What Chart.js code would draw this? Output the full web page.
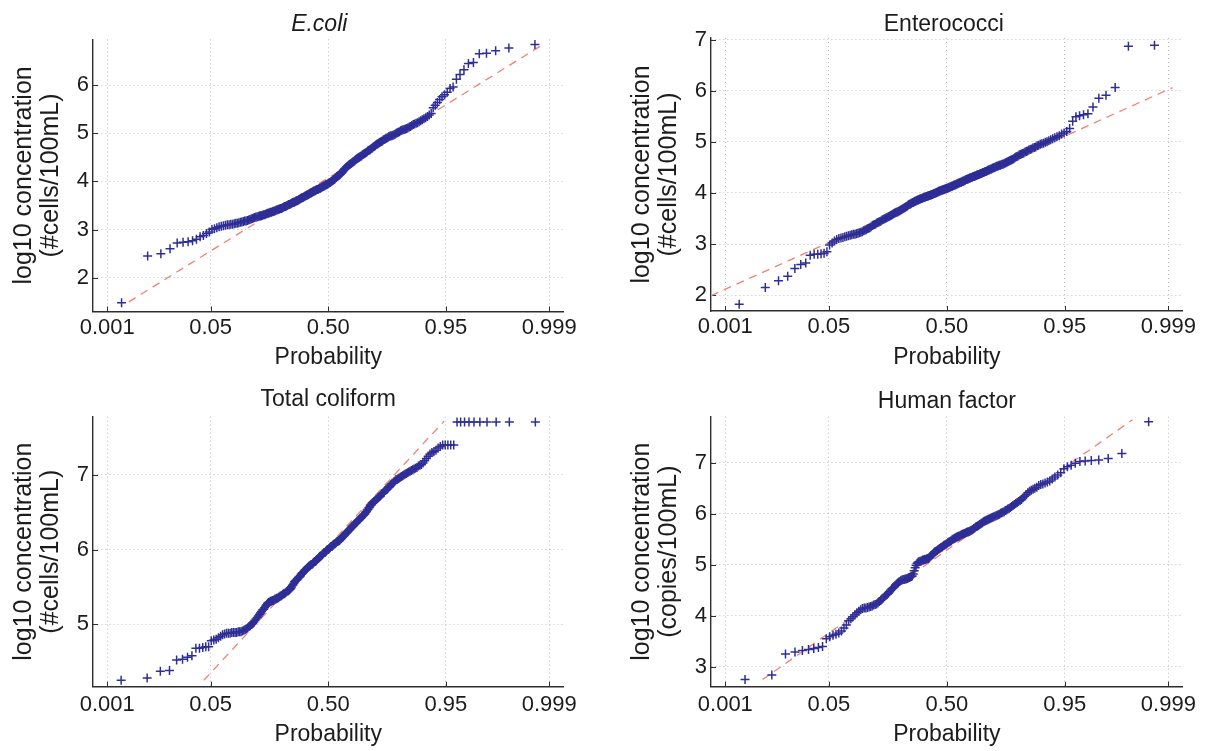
<!DOCTYPE html>
<html><head><meta charset="utf-8">
<script src="https://cdn.jsdelivr.net/npm/chart.js@4.4.1/dist/chart.umd.min.js"></script>
<style>
html,body{margin:0;padding:0;background:#fff;}
#wrap{position:relative;width:1206px;height:751px;overflow:hidden;background:#fff;}
canvas{position:absolute;}
</style></head><body><div id="wrap">
<canvas id="c0"></canvas><canvas id="c1"></canvas><canvas id="c2"></canvas><canvas id="c3"></canvas>
</div>
<script>
// ---------------- DATA ----------------
const probTickValues = [0.001, 0.05, 0.5, 0.95, 0.999];
const probTickLabels = ['0.001', '0.05', '0.50', '0.95', '0.999'];
const xAxisLabel = 'Probability';
const yLabelLine1 = 'log10 concentration';

const panelTitles = ['E.coli', 'Enterococci', 'Total coliform', 'Human factor'];
const panelUnits = ['(#cells/100mL)', '(#cells/100mL)', '(#cells/100mL)', '(copies/100mL)'];

// sorted sample values (log10 concentration)
const ecoliValues = [
1.48,2.45,2.50,2.60,2.72,2.74,2.75,2.77,2.80,2.85,
2.88,2.92,2.95,3.00,3.02,3.04,3.06,3.07,3.08,3.09,
3.10,3.10,3.11,3.11,3.12,3.13,3.13,3.14,3.15,3.16,
3.17,3.18,3.18,3.19,3.20,3.21,3.22,3.23,3.24,3.25,
3.26,3.26,3.27,3.28,3.29,3.29,3.30,3.31,3.31,3.32,
3.33,3.34,3.34,3.35,3.36,3.36,3.37,3.38,3.38,3.39,
3.40,3.41,3.41,3.42,3.43,3.44,3.44,3.45,3.46,3.47,
3.48,3.48,3.49,3.50,3.51,3.52,3.52,3.53,3.54,3.55,
3.56,3.57,3.57,3.58,3.59,3.60,3.60,3.61,3.62,3.63,
3.64,3.65,3.66,3.66,3.67,3.68,3.69,3.70,3.71,3.72,
3.72,3.73,3.74,3.75,3.76,3.76,3.77,3.78,3.79,3.80,
3.80,3.81,3.82,3.83,3.83,3.84,3.85,3.86,3.86,3.87,
3.88,3.89,3.90,3.90,3.91,3.92,3.93,3.93,3.94,3.95,
3.96,3.97,3.98,3.99,4.00,4.01,4.02,4.03,4.04,4.05,
4.07,4.08,4.10,4.11,4.12,4.13,4.14,4.15,4.17,4.18,
4.20,4.22,4.24,4.26,4.27,4.29,4.30,4.31,4.33,4.34,
4.35,4.36,4.37,4.38,4.40,4.41,4.42,4.43,4.45,4.46,
4.47,4.48,4.49,4.50,4.51,4.52,4.53,4.55,4.56,4.57,
4.58,4.59,4.60,4.61,4.63,4.64,4.65,4.66,4.68,4.69,
4.70,4.72,4.73,4.74,4.76,4.77,4.78,4.79,4.81,4.82,
4.83,4.84,4.86,4.87,4.88,4.89,4.90,4.91,4.93,4.94,
4.95,4.95,4.96,4.97,4.98,5.00,5.01,5.02,5.03,5.05,
5.06,5.07,5.08,5.09,5.10,5.11,5.13,5.14,5.16,5.18,
5.19,5.21,5.22,5.24,5.26,5.28,5.30,5.32,5.35,5.38,
5.41,5.53,5.58,5.64,5.70,5.76,5.80,5.85,5.93,5.96,
6.12,6.22,6.32,6.45,6.47,6.65,6.66,6.71,6.77,6.84
];
const enterococciValues = [
1.82,2.15,2.28,2.37,2.52,2.60,2.63,2.78,2.80,2.80,
2.81,2.82,2.85,2.98,3.02,3.06,3.09,3.11,3.12,3.13,
3.14,3.15,3.16,3.17,3.18,3.19,3.19,3.20,3.21,3.22,
3.23,3.24,3.26,3.27,3.28,3.30,3.31,3.32,3.34,3.36,
3.37,3.38,3.39,3.41,3.42,3.43,3.44,3.45,3.47,3.48,
3.49,3.50,3.51,3.52,3.53,3.54,3.55,3.56,3.57,3.58,
3.59,3.60,3.61,3.62,3.62,3.63,3.64,3.65,3.66,3.67,
3.68,3.69,3.70,3.71,3.72,3.73,3.74,3.75,3.77,3.78,
3.78,3.79,3.80,3.81,3.81,3.82,3.83,3.84,3.84,3.85,
3.86,3.86,3.87,3.88,3.88,3.89,3.89,3.90,3.91,3.91,
3.92,3.92,3.93,3.93,3.94,3.94,3.95,3.95,3.96,3.96,
3.97,3.97,3.98,3.99,3.99,4.00,4.00,4.01,4.02,4.02,
4.03,4.03,4.04,4.04,4.05,4.05,4.06,4.06,4.07,4.07,
4.08,4.08,4.09,4.09,4.10,4.10,4.11,4.12,4.12,4.13,
4.13,4.14,4.15,4.15,4.16,4.16,4.17,4.18,4.18,4.19,
4.20,4.20,4.21,4.21,4.22,4.23,4.23,4.24,4.24,4.25,
4.26,4.26,4.27,4.27,4.28,4.29,4.29,4.30,4.30,4.31,
4.32,4.32,4.33,4.33,4.34,4.35,4.35,4.36,4.36,4.37,
4.38,4.38,4.39,4.40,4.40,4.41,4.42,4.42,4.43,4.44,
4.45,4.45,4.46,4.47,4.47,4.48,4.49,4.49,4.50,4.51,
4.52,4.52,4.53,4.54,4.54,4.55,4.56,4.56,4.57,4.58,
4.59,4.60,4.61,4.62,4.63,4.64,4.65,4.66,4.67,4.69,
4.70,4.71,4.72,4.74,4.75,4.76,4.77,4.78,4.80,4.81,
4.82,4.84,4.85,4.86,4.88,4.89,4.90,4.92,4.93,4.95,
4.96,4.97,4.99,5.00,5.02,5.04,5.06,5.08,5.10,5.12,
5.15,5.17,5.20,5.26,5.40,5.49,5.51,5.53,5.55,5.68,
5.85,5.91,6.06,6.87,6.89
];
const totalColiformValues = [
4.25,4.28,4.37,4.38,4.52,4.53,4.56,4.58,4.68,4.68,
4.69,4.70,4.70,4.78,4.79,4.80,4.82,4.84,4.86,4.87,
4.88,4.88,4.88,4.89,4.89,4.89,4.89,4.90,4.90,4.90,
4.91,4.92,4.93,4.94,4.95,4.97,4.98,5.00,5.01,5.03,
5.05,5.07,5.09,5.11,5.13,5.15,5.17,5.19,5.20,5.22,
5.24,5.26,5.28,5.29,5.30,5.31,5.31,5.32,5.32,5.33,
5.34,5.34,5.35,5.35,5.36,5.37,5.38,5.38,5.39,5.40,
5.41,5.41,5.42,5.43,5.44,5.45,5.45,5.46,5.47,5.48,
5.50,5.52,5.53,5.55,5.57,5.58,5.59,5.60,5.61,5.62,
5.63,5.64,5.65,5.67,5.68,5.69,5.70,5.71,5.72,5.73,
5.74,5.75,5.76,5.77,5.78,5.78,5.79,5.80,5.80,5.81,
5.82,5.83,5.84,5.84,5.85,5.86,5.87,5.88,5.89,5.90,
5.91,5.91,5.92,5.93,5.94,5.95,5.96,5.96,5.97,5.98,
5.99,6.00,6.00,6.01,6.02,6.03,6.04,6.04,6.05,6.06,
6.07,6.08,6.08,6.09,6.10,6.11,6.11,6.12,6.12,6.13,
6.14,6.15,6.16,6.17,6.18,6.19,6.20,6.21,6.22,6.23,
6.24,6.25,6.26,6.27,6.28,6.29,6.30,6.31,6.32,6.33,
6.34,6.35,6.36,6.37,6.38,6.39,6.40,6.41,6.42,6.43,
6.44,6.45,6.46,6.47,6.48,6.50,6.51,6.53,6.54,6.56,
6.57,6.59,6.60,6.62,6.63,6.64,6.65,6.66,6.67,6.68,
6.69,6.70,6.71,6.72,6.74,6.75,6.76,6.77,6.79,6.80,
6.81,6.83,6.84,6.85,6.87,6.88,6.89,6.91,6.92,6.94,
6.94,6.95,6.96,6.97,6.98,6.99,7.00,7.01,7.02,7.03,
7.04,7.05,7.06,7.07,7.08,7.09,7.10,7.12,7.13,7.14,
7.16,7.19,7.22,7.25,7.28,7.30,7.31,7.33,7.36,7.38,
7.40,7.40,7.40,7.40,7.40,7.71,7.71,7.71,7.71,7.71,
7.71,7.71,7.71,7.71,7.71
];
const humanFactorValues = [
2.75,2.84,3.25,3.29,3.32,3.34,3.36,3.38,3.40,3.55,
3.59,3.62,3.64,3.66,3.70,3.76,3.82,3.90,3.94,3.98,
4.02,4.06,4.09,4.12,4.14,4.15,4.15,4.16,4.17,4.18,
4.19,4.21,4.22,4.23,4.25,4.28,4.30,4.33,4.35,4.38,
4.40,4.42,4.44,4.47,4.50,4.53,4.55,4.57,4.60,4.62,
4.64,4.66,4.67,4.69,4.70,4.71,4.71,4.72,4.72,4.73,
4.74,4.75,4.76,4.77,4.78,4.82,4.88,4.94,4.99,5.03,
5.05,5.06,5.07,5.07,5.08,5.09,5.09,5.10,5.10,5.11,
5.12,5.12,5.13,5.15,5.17,5.19,5.21,5.23,5.25,5.26,
5.27,5.28,5.30,5.31,5.32,5.33,5.34,5.35,5.37,5.38,
5.39,5.40,5.41,5.43,5.44,5.45,5.46,5.47,5.49,5.50,
5.51,5.52,5.53,5.54,5.55,5.56,5.56,5.57,5.58,5.59,
5.60,5.60,5.61,5.62,5.63,5.64,5.64,5.65,5.66,5.67,
5.68,5.69,5.71,5.72,5.74,5.75,5.76,5.77,5.79,5.80,
5.81,5.82,5.84,5.85,5.86,5.87,5.88,5.89,5.90,5.91,
5.92,5.93,5.94,5.95,5.96,5.97,5.98,5.99,6.01,6.02,
6.03,6.04,6.06,6.07,6.09,6.10,6.12,6.14,6.16,6.18,
6.20,6.22,6.24,6.26,6.28,6.31,6.34,6.37,6.41,6.44,
6.46,6.48,6.50,6.52,6.55,6.57,6.58,6.60,6.62,6.64,
6.68,6.72,6.76,6.80,6.88,6.92,6.95,6.99,7.02,7.03,
7.04,7.05,7.08,7.18,7.80
];

// reference (fit) line end points: probability and value
const ecoliFitP = [0.00264, 0.99865];
const ecoliFitValues = [1.50, 6.84];
const enterococciFitP = [0.0005, 0.99918];
const enterococciFitValues = [1.99, 6.06];
const totalColiformFitP = [0.0409, 0.9474];
const totalColiformFitValues = [4.25, 7.72];
const humanFactorFitP = [0.00508, 0.9952];
const humanFactorFitValues = [2.75, 7.84];

// y-axis tick values and ranges
const ecoliYTicks = [2, 3, 4, 5, 6];
const enterococciYTicks = [2, 3, 4, 5, 6, 7];
const totalColiformYTicks = [5, 6, 7];
const humanFactorYTicks = [3, 4, 5, 6, 7];
const ecoliYRange = [1.30, 6.95];
const enterococciYRange = [1.69, 7.03];
const totalColiformYRange = [4.164, 7.78];
const humanFactorYRange = [2.61, 7.90];

// ---------------- STYLE / LAYOUT ----------------
const FONT = '"Liberation Sans", Arial, Helvetica, sans-serif';
const TXT = '#1c1c1c';
const AXIS = '#2e2e2e';
const BLUE = 'rgb(46,46,150)';
const RED = 'rgb(242,128,115)';
const XLIM = 3.29;
const YLAB_SIZE = 25;
const YLAB_LH = 1.1;

const LAYOUT = [
  {id:'c0', box:[0,0,603,375],   area:{l:93,  t:39.3, r:563.5, b:311.5}, titleY:24.5, titleDX:-9, italic:true,  xTickPad:3, xTitlePad:3.7},
  {id:'c1', box:[603,0,603,375], area:{l:108, t:38,   r:579.7, b:311},   titleY:24.5, titleDX:-3, italic:false, xTickPad:3, xTitlePad:3.2},
  {id:'c2', box:[0,375,603,376], area:{l:93,  t:41.7, r:563.5, b:311.7}, titleY:24.3, titleDX:0,  italic:false, xTickPad:5, xTitlePad:2.9},
  {id:'c3', box:[603,375,603,376], area:{l:108, t:41.7, r:579.7, b:311.7}, titleY:26.3, titleDX:0, italic:false, xTickPad:5, xTitlePad:2.9}
];

// inverse standard normal CDF (normal probability scale)
function normInv(p){
  const a=[-3.969683028665376e+01,2.209460984245205e+02,-2.759285104469687e+02,1.383577518672690e+02,-3.066479806614716e+01,2.506628277459239e+00];
  const b=[-5.447609879822406e+01,1.615858368580409e+02,-1.556989798598866e+02,6.680131188771972e+01,-1.328068155288572e+01];
  const c=[-7.784894002430293e-03,-3.223964580411365e-01,-2.400758277161838e+00,-2.549732539343734e+00,4.374664141464968e+00,2.938163982698783e+00];
  const d=[7.784695709041462e-03,3.224671290700398e-01,2.445134137142996e+00,3.754408661907416e+00];
  const pl=0.02425, ph=1-pl; let q,r;
  if(p<pl){q=Math.sqrt(-2*Math.log(p));return (((((c[0]*q+c[1])*q+c[2])*q+c[3])*q+c[4])*q+c[5])/((((d[0]*q+d[1])*q+d[2])*q+d[3])*q+1);}
  if(p<=ph){q=p-0.5;r=q*q;return (((((a[0]*r+a[1])*r+a[2])*r+a[3])*r+a[4])*r+a[5])*q/(((((b[0]*r+b[1])*r+b[2])*r+b[3])*r+b[4])*r+1);}
  q=Math.sqrt(-2*Math.log(1-p));return -(((((c[0]*q+c[1])*q+c[2])*q+c[3])*q+c[4])*q+c[5])/((((d[0]*q+d[1])*q+d[2])*q+d[3])*q+1);
}

const decor = {
  id:'decor',
  beforeDatasetsDraw(chart){
    const {ctx, chartArea:a, scales:{x,y}} = chart;
    ctx.save(); ctx.strokeStyle = AXIS; ctx.lineWidth = 1;
    x.ticks.forEach(t=>{const px=Math.round(x.getPixelForValue(t.value))+0.5; ctx.beginPath(); ctx.moveTo(px,a.bottom); ctx.lineTo(px,a.bottom-5); ctx.stroke();});
    y.ticks.forEach(t=>{const py=Math.round(y.getPixelForValue(t.value))+0.5; ctx.beginPath(); ctx.moveTo(a.left,py); ctx.lineTo(a.left+5,py); ctx.stroke();});
    ctx.restore();
  },
  afterDraw(chart, args, o){
    const {ctx, chartArea:a} = chart;
    ctx.save();
    ctx.font = (o.italic ? 'italic ' : '') + '23px ' + FONT;
    ctx.fillStyle = TXT; ctx.textAlign = 'center'; ctx.textBaseline = 'middle';
    ctx.fillText(o.text, (a.left + a.right) / 2 + o.dx, o.y);
    ctx.restore();
  }
};

const PANELS = [
  {values:ecoliValues, fitP:ecoliFitP, fitV:ecoliFitValues, yTicks:ecoliYTicks, yRange:ecoliYRange},
  {values:enterococciValues, fitP:enterococciFitP, fitV:enterococciFitValues, yTicks:enterococciYTicks, yRange:enterococciYRange},
  {values:totalColiformValues, fitP:totalColiformFitP, fitV:totalColiformFitValues, yTicks:totalColiformYTicks, yRange:totalColiformYRange},
  {values:humanFactorValues, fitP:humanFactorFitP, fitV:humanFactorFitValues, yTicks:humanFactorYTicks, yRange:humanFactorYRange}
];

function makeChart(k){
  const L = LAYOUT[k], P = PANELS[k];
  const cv = document.getElementById(L.id);
  const [bx, by, W, H] = L.box;
  cv.style.left = bx + 'px'; cv.style.top = by + 'px';
  cv.width = W; cv.height = H; cv.style.width = W + 'px'; cv.style.height = H + 'px';
  const n = P.values.length;
  const pts = P.values.map((v,i)=>({x: normInv((i + 0.5) / n), y: v}));
  const fit = P.fitP.map((p,i)=>({x: normInv(p), y: P.fitV[i]}));
  const gridCfg = {color:'rgba(130,130,130,0.5)', lineWidth:1, drawTicks:false};
  const borderCfg = {display:true, color:AXIS, width:1.4, dash:[1,3]};
  const ylh = YLAB_SIZE * YLAB_LH;
  new Chart(cv, {
    type:'scatter',
    data:{datasets:[
      {data:pts, pointStyle:'cross', pointRadius:4.5, borderColor:BLUE, backgroundColor:BLUE, pointBorderWidth:1.5, order:1},
      {data:fit, showLine:true, borderColor:RED, borderWidth:1.3, borderDash:[8,6], pointRadius:0, fill:false, order:2}
    ]},
    options:{
      responsive:false, animation:false, events:[], devicePixelRatio:1,
      layout:{padding:{left:0, top:L.area.t, right:W - L.area.r, bottom:0}},
      plugins:{legend:{display:false}, tooltip:{enabled:false},
        decor:{text:panelTitles[k], italic:L.italic, y:L.titleY, dx:L.titleDX}},
      scales:{
        x:{type:'linear', min:-XLIM, max:XLIM,
          afterBuildTicks:s=>{ s.ticks = probTickValues.map(p=>({value:normInv(p)})); },
          afterFit:s=>{ s.height = H - L.area.b; },
          ticks:{callback:(v,i)=>probTickLabels[i], font:{family:FONT, size:22}, color:TXT, padding:L.xTickPad, maxRotation:0, autoSkip:false},
          grid:gridCfg, border:borderCfg,
          title:{display:true, text:xAxisLabel, font:{family:FONT, size:23, lineHeight:1.2}, color:TXT, padding:{top:0, bottom:L.xTitlePad}}
        },
        y:{type:'linear', min:P.yRange[0], max:P.yRange[1],
          afterBuildTicks:s=>{ s.ticks = P.yTicks.map(v=>({value:v})); },
          afterFit:s=>{ s.width = L.area.l; },
          ticks:{callback:v=>String(v), font:{family:FONT, size:22}, color:TXT, padding:4, autoSkip:false},
          grid:gridCfg, border:borderCfg,
          title:{display:true, text:[yLabelLine1, panelUnits[k]], font:{family:FONT, size:YLAB_SIZE, lineHeight:YLAB_LH}, color:TXT,
                 padding:{top:L.area.l - 69 - ylh/2, bottom:0}}
        }
      }
    },
    plugins:[decor]
  });
}
for (let k = 0; k < 4; k++) makeChart(k);
</script>
</body></html>
